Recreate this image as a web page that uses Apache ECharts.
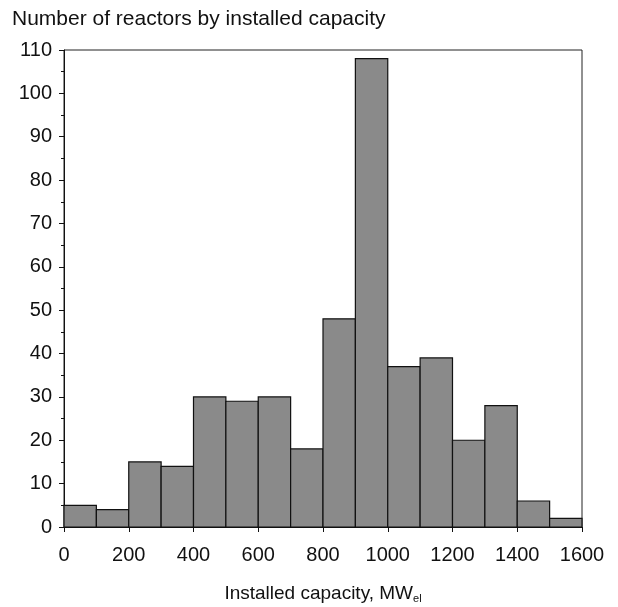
<!DOCTYPE html>
<html>
<head>
<meta charset="utf-8">
<script src="https://cdn.jsdelivr.net/npm/echarts@6/dist/echarts.min.js"></script>
<style>
  html, body { margin: 0; padding: 0; background: #fff; }
  #chart { width: 618px; height: 607px; }
</style>
</head>
<body>
<div id="chart"></div>
<script>
// bin edges (MWel) and number of reactors per bin
var binStart = [0, 100, 200, 300, 400, 500, 600, 700, 800, 900, 1000, 1100, 1200, 1300, 1400, 1500]
var binWidth = 100
var reactorCount = [5, 4, 15, 14, 30, 29, 30, 18, 48, 108, 37, 39, 20, 28, 6, 2]

var chart = echarts.init(document.getElementById('chart'))

var bins = binStart.map(function(s, i) {
  return [s, s + binWidth, reactorCount[i]]
})

var font = 'Liberation Sans, Arial, sans-serif'

var option = {
  animation: false,
  title: {
    text: 'Number of reactors by installed capacity',
    left: 7,
    top: 4,
    textStyle: { fontFamily: font, fontSize: 21, fontWeight: 'normal', color: '#111' }
  },
  grid: {
    left: 64, right: 36, top: 50, bottom: 80,
    outerBoundsMode: 'none',
    show: true, borderColor: '#222', borderWidth: 1
  },
  xAxis: {
    type: 'value',
    min: 0,
    max: 1600,
    interval: 200,
    name: 'Installed capacity, MW{sub|el}',
    nameLocation: 'middle',
    nameGap: 56,
    nameTextStyle: {
      fontFamily: font, fontSize: 19, color: '#111',
      rich: { sub: { fontFamily: font, fontSize: 11, color: '#111', verticalAlign: 'bottom', padding: [10, 0, 0, 0] } }
    },
    axisLine: { lineStyle: { color: '#111' } },
    axisTick: { inside: false, length: 5, lineStyle: { color: '#111' } },
    axisLabel: {
      fontFamily: font, fontSize: 20, color: '#111', margin: 18,
      formatter: function(v) { return String(v) }
    },
    splitLine: { show: false }
  },
  yAxis: {
    type: 'value',
    min: 0,
    max: 110,
    interval: 10,
    axisLine: { show: true, lineStyle: { color: '#111' } },
    axisTick: { show: true, length: 5, lineStyle: { color: '#111' } },
    minorTick: { show: true, splitNumber: 2, length: 3, lineStyle: { color: '#111' } },
    axisLabel: { fontFamily: font, fontSize: 20, color: '#111', margin: 12 },
    splitLine: { show: false }
  },
  series: [{
    type: 'custom',
    data: bins,
    encode: { x: [0, 1], y: 2 },
    renderItem: function(params, api) {
      var p0 = api.coord([api.value(0), api.value(2)])
      var p1 = api.coord([api.value(1), 0])
      return {
        type: 'rect',
        shape: { x: p0[0], y: p0[1], width: p1[0] - p0[0], height: p1[1] - p0[1] },
        style: { fill: '#8a8a8a', stroke: '#111', lineWidth: 1.2 }
      }
    }
  }]
}

chart.setOption(option)
</script>
</body>
</html>
